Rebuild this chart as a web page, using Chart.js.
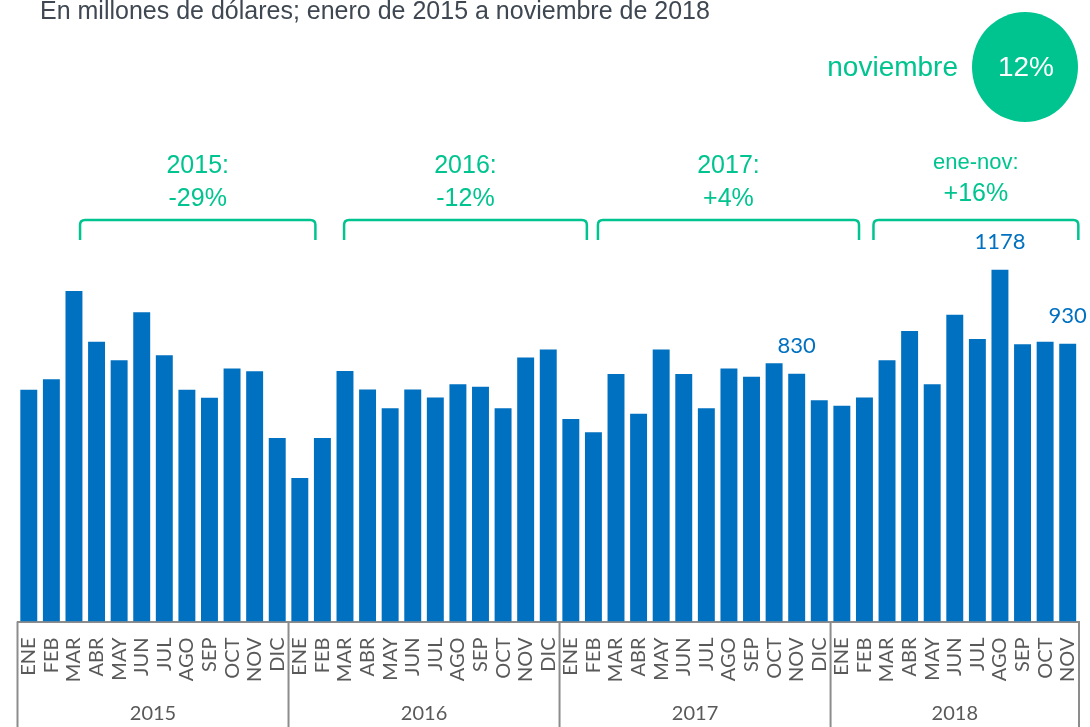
<!DOCTYPE html>
<html><head><meta charset="utf-8">
<script src="https://cdn.jsdelivr.net/npm/chart.js@4.4.1/dist/chart.umd.min.js"></script>
<style>html,body{margin:0;padding:0;background:#fff;overflow:hidden}canvas{display:block}</style>
</head><body>
<canvas id="c" width="1090" height="727"></canvas>
<script>
// ---- data ----
const monthNames = ['ENE','FEB','MAR','ABR','MAY','JUN','JUL','AGO','SEP','OCT','NOV','DIC'];
const years = ['2015','2016','2017','2018'];
const monthsPerYear = [12,12,12,11];
const values2015 = [776,811,1107,937,875,1036,892,776,749,847,838,615];
const values2016 = [481,615,839,777,714,777,750,795,786,714,884,911];
const values2017 = [678,634,829,696,911,829,714,847,820,865,830,741];
const values2018 = [723,750,875,973,795,1027,946,1178,929,937,930];
const labeledIndexes = [34,43,46];
const braceTitles = ['2015:','2016:','2017:','ene-nov:'];
const braceValues = ['-29%','-12%','+4%','+16%'];
const title = 'En millones de dólares; enero de 2015 a noviembre de 2018';
const highlightMonth = 'noviembre';
const highlightValue = '12%';

const categories = [];
monthsPerYear.forEach(n => { for (let i = 0; i < n; i++) categories.push(monthNames[i]); });
const values = [].concat(values2015, values2016, values2017, values2018);

const GREEN = '#00c48f';
const BLUE = '#0070c0';
const GREY_TXT = '#595959';
const GREY_LINE = '#8c8c8c';

const overlay = {
  id: 'overlay',
  afterDraw(chart) {
    const ctx = chart.ctx;
    const xs = chart.scales.x;
    const area = chart.chartArea;
    const n = categories.length;
    const pitch = (area.right - area.left) / n;
    const edge = i => area.left + i * pitch;
    ctx.save();
    // group separators + year labels
    ctx.strokeStyle = GREY_LINE; ctx.lineWidth = 2;
    let start = 0;
    const bounds = [0];
    monthsPerYear.forEach(m => { start += m; bounds.push(start); });
    bounds.forEach(b => {
      const x = edge(b);
      ctx.beginPath(); ctx.moveTo(x, xs.top); ctx.lineTo(x, chart.height); ctx.stroke();
    });
    ctx.fillStyle = GREY_TXT;
    ctx.font = '20px Lato, "Liberation Sans", sans-serif';
    ctx.textAlign = 'center'; ctx.textBaseline = 'middle';
    years.forEach((y, i) => {
      ctx.fillText(y, (edge(bounds[i]) + edge(bounds[i + 1])) / 2, 714);
    });
    // value labels
    const meta = chart.getDatasetMeta(0);
    ctx.fillStyle = BLUE;
    ctx.font = '22px Lato, "Liberation Sans", sans-serif';
    labeledIndexes.forEach(i => {
      const el = meta.data[i];
      ctx.fillText(String(values[i]), el.x, el.y - 28);
    });
    // braces (span in category units)
    const spans = [[2.77,13.19],[14.46,25.21],[25.7,37.26],[37.9,46.97]];
    ctx.strokeStyle = GREEN; ctx.lineWidth = 2.5; ctx.lineJoin = 'round';
    spans.forEach((s, i) => {
      const x1 = edge(s[0]), x2 = edge(s[1]);
      const top = 220, bot = 240, r = 5;
      ctx.beginPath();
      ctx.moveTo(x1, bot);
      ctx.lineTo(x1, top + r);
      ctx.quadraticCurveTo(x1, top, x1 + r, top);
      ctx.lineTo(x2 - r, top);
      ctx.quadraticCurveTo(x2, top, x2, top + r);
      ctx.lineTo(x2, bot);
      ctx.stroke();
      const cx = (x1 + x2) / 2;
      ctx.fillStyle = GREEN;
      ctx.textAlign = 'center'; ctx.textBaseline = 'middle';
      if (i === 3) {
        ctx.font = '22px "Liberation Sans", Arial, sans-serif';
        ctx.fillText(braceTitles[i], cx, 163);
        ctx.font = '25px "Liberation Sans", Arial, sans-serif';
        ctx.fillText(braceValues[i], cx, 194);
      } else {
        ctx.font = '25px "Liberation Sans", Arial, sans-serif';
        ctx.fillText(braceTitles[i], cx, 166);
        ctx.fillText(braceValues[i], cx, 199);
      }
    });
    // title
    ctx.fillStyle = '#3f4852';
    ctx.textAlign = 'left'; ctx.textBaseline = 'alphabetic';
    ctx.font = '25px "Liberation Sans", Arial, sans-serif';
    ctx.fillText(title, 40, 19);
    // highlight
    ctx.fillStyle = GREEN;
    ctx.beginPath(); ctx.ellipse(1025, 67, 53, 55, 0, 0, Math.PI * 2); ctx.fill();
    ctx.font = '28px "Liberation Sans", Arial, sans-serif';
    ctx.textAlign = 'right'; ctx.textBaseline = 'middle';
    ctx.fillText(highlightMonth, 958, 68);
    ctx.fillStyle = '#ffffff';
    ctx.textAlign = 'center';
    ctx.fillText(highlightValue, 1026, 68);
    ctx.restore();
  }
};

new Chart(document.getElementById('c'), {
  type: 'bar',
  data: {
    labels: categories,
    datasets: [{ data: values, backgroundColor: BLUE, barPercentage: 0.75, categoryPercentage: 1 }]
  },
  options: {
    responsive: false, animation: false, devicePixelRatio: 1,
    layout: { padding: { left: 17.5, right: 11, top: 203.5, bottom: 0 } },
    plugins: { legend: { display: false }, tooltip: { enabled: false } },
    scales: {
      x: {
        grid: { display: false, drawTicks: false },
        border: { display: true, color: GREY_LINE, width: 2 },
        ticks: { autoSkip: false, minRotation: 90, maxRotation: 90, padding: 16,
                 font: { family: 'Lato, "Liberation Sans", sans-serif', size: 20 }, color: GREY_TXT },
        afterFit: s => { s.height = 105.5; s.paddingLeft = 0; s.paddingRight = 0; }
      },
      y: { display: false, min: 0, max: 1400 }
    }
  },
  plugins: [overlay]
});
</script>
</body></html>
